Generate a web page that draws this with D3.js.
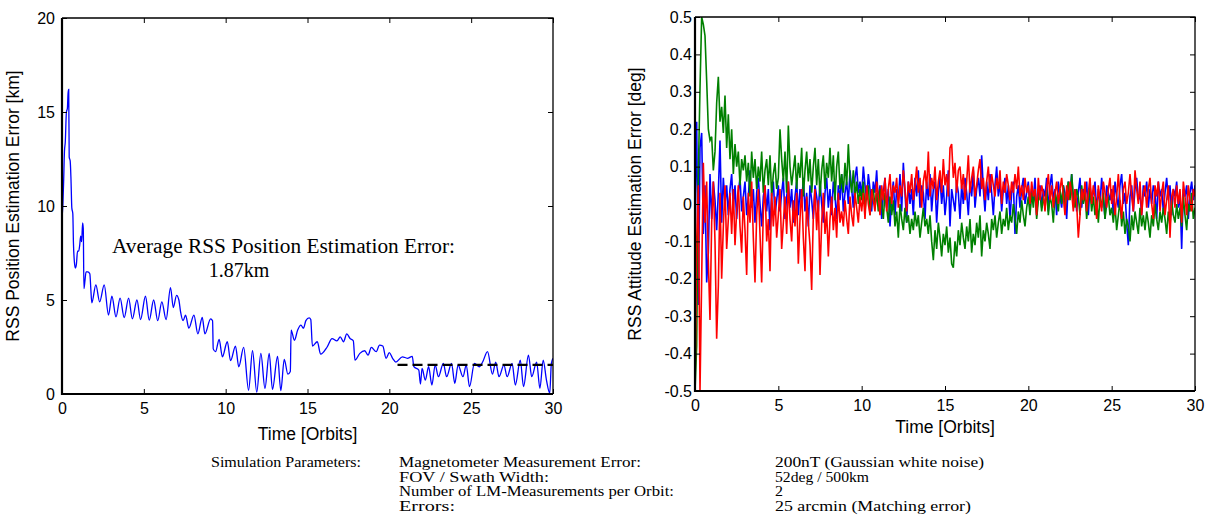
<!DOCTYPE html>
<html>
<head>
  <meta charset="utf-8">
  <style>
    body { margin: 0; background: #fff; }
    svg { display: block; }
    .tick text { font: 16px "Liberation Sans", Arial, sans-serif; fill: #000; }
    .tick line { stroke: #000; stroke-width: 1; }
    .label { font: 17.5px "Liberation Sans", Arial, sans-serif; fill: #000; }
    .note { font-family: "Liberation Serif", "Times New Roman", serif; fill: #000; }
  </style>
  <script src="https://cdn.jsdelivr.net/npm/d3@7"></script>
</head>
<body>
<script>
// ---- data ----

// position error [km] vs time [orbits]
var posTime = [0, 0.05, 0.1, 0.15, 0.2, 0.27, 0.33, 0.37, 0.41, 0.44, 0.5, 0.55, 0.6, 0.66, 0.7, 0.76, 0.82, 0.88, 0.95, 1.02,
  1.08, 1.14, 1.2, 1.26, 1.3, 1.34, 1.4, 1.47, 1.58, 1.7, 1.76, 1.82, 2.07, 2.3, 2.58, 2.84, 3.05, 3.3, 3.55, 3.8,
  4.07, 4.3, 4.58, 4.8, 5.1, 5.33, 5.6, 5.85, 6.1, 6.36, 6.63, 6.8, 7.0, 7.14, 7.24, 7.4, 7.55, 7.75, 8.06, 8.3,
  8.57, 8.73, 9.08, 9.2, 9.24, 9.38, 9.6, 9.8, 10.1, 10.3, 10.6, 10.8, 11.1, 11.4, 11.64, 11.9, 12.15, 12.4, 12.66, 12.86,
  13.17, 13.37, 13.58, 13.8, 13.95, 14.0, 14.2, 14.4, 14.6, 14.75, 14.9, 15.1, 15.2, 15.3, 15.6, 15.8, 16.2, 16.5, 16.8, 17.0,
  17.2, 17.4, 17.6, 17.8, 17.9, 18.2, 18.5, 18.7, 18.9, 19.2, 19.4, 19.6, 19.8, 20.0, 20.2, 20.4, 20.8, 21.1, 21.4, 21.5,
  21.8, 21.9, 22.0, 22.2, 22.4, 22.6, 22.8, 23.0, 23.3, 23.5, 23.8, 24.0, 24.2, 24.5, 24.7, 24.9, 25.2, 25.5, 25.7, 26.0,
  26.3, 26.5, 26.7, 27.0, 27.2, 27.5, 27.7, 28.0, 28.2, 28.5, 28.7, 29.0, 29.2, 29.4, 29.6, 29.8, 29.9, 30.0];
var posKm = [9.4, 10.0, 11.3, 12.9, 13.4, 15.0, 15.2, 16.0, 16.2, 12.6, 12.4, 11.4, 9.9, 9.6, 8.0, 7.0, 6.7, 6.9, 7.6, 7.6,
  7.9, 8.4, 8.1, 9.1, 8.8, 5.6, 6.0, 6.5, 6.5, 6.4, 5.6, 4.85, 5.8, 4.9, 5.8, 4.2, 5.2, 4.1, 5.1, 4.07,
  5.1, 4.0, 5.0, 3.96, 5.2, 3.93, 5.0, 3.9, 4.9, 3.96, 5.66, 4.6, 5.25, 5.0, 4.4, 3.9, 4.2, 3.5, 4.2, 3.2,
  4.07, 3.2, 4.0, 3.9, 2.4, 2.25, 2.9, 1.98, 2.78, 1.77, 2.55, 1.45, 2.48, 0.2, 2.3, 0.1, 2.16, 0.3, 2.16, 0.25,
  2.0, 0.18, 1.84, 1.06, 1.2, 3.4, 2.86, 3.4, 3.66, 3.5, 3.9, 4.05, 3.96, 2.55, 2.78, 2.12, 2.5, 2.95, 2.83, 3.04,
  2.78, 3.2, 2.95, 2.83, 1.8, 2.16, 2.3, 2.07, 2.48, 2.25, 2.6, 2.55, 1.9, 2.2, 1.9, 1.7, 1.98, 1.9, 2.0, 1.45,
  1.27, 0.53, 1.36, 0.74, 1.45, 0.48, 1.54, 0.92, 1.63, 0.92, 1.63, 0.57, 1.54, 0.92, 1.54, 0.39, 1.63, 1.45, 1.7, 2.25,
  1.06, 1.7, 0.92, 1.54, 0.92, 1.63, 0.48, 1.8, 0.39, 2.07, 0.92, 1.7, 0.3, 1.8, 0.74, 0.04, 1.63, 1.9];

// dashed average line
var avgSpan = [20.5, 30];
var avgLevel = 1.55;

// attitude error [deg], one sample every 0.1 orbit from 0 to 30
var attStep = 0.1;
var attBlue = [
  0.00, 0.22, -0.27, 0.15, 0.19, -0.08, 0.05, -0.21, -0.13, 0.08,
  -0.04, 0.06, 0.01, -0.07, 0.03, 0.17, -0.05, 0.07, 0.00, 0.05,
  -0.03, 0.04, 0.08, -0.01, 0.05, -0.04, 0.03, 0.07, -0.02, 0.02,
  0.06, -0.03, 0.02, 0.09, -0.01, 0.04, -0.05, 0.03, 0.07, 0.00,
  -0.06, 0.02, 0.05, -0.02, 0.04, -0.07, 0.03, 0.06, -0.03, 0.01,
  0.05, -0.02, 0.03, 0.07, -0.04, 0.02, 0.06, -0.01, 0.04, -0.05,
  0.02, 0.06, -0.03, 0.04, 0.00, 0.07, -0.02, 0.03, -0.06, 0.05,
  0.01, -0.04, 0.05, 0.02, -0.02, 0.06, 0.00, -0.05, 0.03, 0.07,
  -0.01, 0.04, -0.03, 0.06, 0.02, -0.04, 0.05, 0.01, 0.08, -0.02,
  0.03, 0.06, 0.00, 0.09, 0.04, -0.01, 0.07, 0.10, 0.03, 0.06,
  0.02, 0.10, 0.05, 0.01, 0.08, 0.04, -0.02, 0.06, 0.03, 0.09,
  0.00, 0.05, -0.04, 0.03, 0.07, -0.01, 0.04, -0.06, 0.02, 0.06,
  -0.03, 0.04, 0.01, 0.08, -0.02, 0.11, 0.03, -0.05, 0.06, 0.00,
  0.04, -0.03, 0.07, 0.02, 0.09, -0.01, 0.05, 0.03, -0.04, 0.06,
  0.01, 0.08, -0.02, 0.04, 0.06, -0.05, 0.03, 0.07, 0.00, 0.05,
  -0.03, 0.02, 0.09, -0.06, 0.04, 0.01, -0.02, 0.06, 0.03, -0.04,
  0.05, 0.00, 0.07, 0.03, -0.03, 0.06, 0.02, 0.09, -0.01, 0.04,
  0.07, 0.02, 0.13, 0.04, -0.02, 0.06, 0.01, 0.08, 0.03, -0.03,
  0.05, 0.10, 0.02, 0.06, -0.02, 0.04, 0.07, 0.00, 0.05, -0.04,
  0.03, 0.06, -0.08, 0.02, 0.05, -0.01, 0.04, 0.07, 0.00, 0.03,
  0.06, -0.02, 0.04, 0.01, 0.07, -0.03, 0.03, 0.05, -0.01, 0.04,
  0.02, 0.07, -0.02, 0.05, 0.08, 0.01, 0.04, -0.03, 0.06, 0.02,
  -0.01, 0.05, 0.03, -0.04, 0.06, 0.02, 0.08, 0.00, 0.04, -0.02,
  0.03, 0.07, -0.01, 0.04, 0.02, 0.06, -0.03, 0.05, 0.01, 0.03,
  0.06, -0.02, 0.04, 0.00, 0.07, 0.02, -0.04, 0.05, 0.03, 0.01,
  0.04, -0.03, 0.06, 0.02, -0.01, 0.05, 0.08, 0.00, 0.03, -0.05,
  -0.11, 0.02, 0.05, -0.02, 0.04, 0.07, 0.01, 0.03, -0.03, 0.05,
  0.02, 0.06, -0.01, 0.04, 0.00, 0.05, 0.03, -0.04, 0.06, 0.02,
  0.04, -0.02, 0.03, 0.07, 0.01, 0.05, -0.03, 0.04, 0.02, 0.06,
  -0.01, 0.03, -0.12, 0.04, 0.02, 0.05, -0.04, 0.03, 0.06, 0.01,
  0.05];
var attGreen = [
  -0.50, -0.38, 0.08, 0.31, 0.50, 0.48, 0.45, 0.33, 0.20, 0.17,
  0.18, 0.09, 0.14, 0.27, 0.34, 0.22, 0.26, 0.19, 0.29, 0.15,
  0.24, 0.12, 0.20, 0.08, 0.16, 0.10, 0.14, 0.05, 0.12, 0.09,
  0.13, 0.06, 0.11, 0.02, 0.14, 0.07, 0.12, 0.04, 0.10, 0.06,
  0.14, 0.03, 0.09, 0.12, 0.05, 0.13, 0.02, 0.08, 0.11, 0.04,
  0.07, 0.20, 0.12, 0.06, 0.14, 0.03, 0.21, 0.10, 0.05, 0.09,
  0.13, 0.04, 0.11, 0.07, 0.15, 0.02, 0.09, 0.14, 0.06, 0.12,
  0.03, 0.10, 0.15, 0.05, 0.12, 0.02, 0.09, 0.13, 0.04, 0.11,
  0.07, 0.15, 0.06, 0.13, 0.01, 0.10, 0.14, 0.04, 0.08, 0.03,
  0.11, 0.05, 0.16, 0.07, 0.03, 0.09, 0.02, 0.06, 0.00, 0.04,
  0.01, 0.06, -0.02, 0.03, 0.05, -0.03, 0.02, 0.04, -0.01, 0.03,
  -0.02, 0.04, 0.00, -0.04, 0.03, -0.01, -0.05, 0.02, -0.03, 0.01,
  -0.06, -0.02, -0.09, 0.00, -0.04, -0.07, -0.01, -0.05, -0.03, -0.08,
  -0.04, -0.07, -0.02, -0.06, -0.03, -0.09, -0.05, -0.01, -0.06, -0.04,
  -0.08, -0.03, -0.10, -0.15, -0.07, -0.12, -0.05, -0.09, -0.14, -0.08,
  -0.11, -0.06, -0.13, -0.09, -0.16, -0.17, -0.10, -0.14, -0.07, -0.11,
  -0.05, -0.09, -0.12, -0.06, -0.10, -0.04, -0.13, -0.08, -0.11, -0.05,
  -0.09, -0.03, -0.14, -0.07, -0.10, -0.05, -0.08, -0.12, -0.04, -0.07,
  -0.03, -0.09, -0.05, -0.02, -0.08, -0.04, -0.06, -0.01, -0.07, -0.03,
  -0.05, 0.00, -0.04, -0.08, -0.02, -0.05, 0.01, -0.03, -0.06, -0.01,
  0.02, -0.03, 0.03, -0.01, 0.04, -0.04, 0.01, 0.03, -0.02, 0.02,
  -0.01, 0.04, -0.03, 0.02, 0.00, -0.05, 0.03, 0.01, -0.02, 0.04,
  0.00, 0.05, -0.02, 0.03, 0.06, 0.01, 0.08, 0.02, -0.01, 0.04,
  0.02, -0.03, 0.05, 0.00, 0.03, -0.04, 0.01, 0.04, -0.02, 0.02,
  -0.03, 0.01, -0.05, 0.02, -0.01, 0.03, -0.04, 0.00, 0.02, -0.03,
  -0.01, -0.05, 0.00, -0.07, -0.03, 0.01, -0.06, -0.02, -0.08, -0.04,
  -0.06, -0.10, -0.03, -0.07, -0.02, -0.05, -0.08, -0.01, -0.06, -0.03,
  -0.07, -0.02, -0.05, -0.09, -0.03, -0.06, 0.00, -0.04, -0.07, -0.02,
  -0.05, -0.01, -0.04, -0.08, -0.02, -0.06, 0.01, -0.03, -0.05, 0.00,
  -0.04, -0.01, -0.06, 0.02, -0.03, -0.07, 0.00, -0.02, 0.03, -0.04,
  -0.01];
var attRed = [
  -0.50, -0.10, 0.05, -0.50, -0.20, 0.11, -0.05, 0.06, -0.15, -0.31,
  -0.05, 0.06, -0.10, -0.36, -0.22, 0.03, -0.20, -0.06, 0.05, -0.12,
  -0.04, 0.03, -0.08, 0.04, -0.11, -0.02, 0.05, -0.06, -0.13, 0.02,
  -0.07, -0.19, 0.03, -0.05, 0.06, -0.09, -0.21, -0.03, 0.04, -0.08,
  -0.21, -0.02, 0.05, -0.10, -0.04, -0.18, 0.03, -0.06, 0.02, -0.09,
  -0.03, 0.04, -0.12, -0.05, 0.02, -0.08, 0.06, -0.04, -0.10, 0.01,
  -0.06, 0.03, -0.16, -0.04, 0.04, -0.09, -0.18, 0.02, -0.05, -0.11,
  -0.23, -0.03, 0.04, -0.07, 0.01, -0.19, -0.05, 0.03, -0.08, -0.02,
  -0.14, -0.04, 0.02, -0.07, -0.01, -0.09, 0.03, -0.05, -0.02, -0.06,
  0.01, -0.04, -0.08, 0.02, -0.03, -0.06, 0.03, -0.01, -0.05, 0.02,
  -0.02, 0.03, -0.04, 0.05, 0.00, -0.03, 0.04, 0.01, -0.02, 0.06,
  0.02, -0.03, 0.05, 0.01, 0.07, -0.02, 0.04, 0.08, 0.00, 0.05,
  0.03, 0.07, -0.01, 0.05, 0.02, 0.09, 0.04, -0.02, 0.06, 0.03,
  0.08, 0.01, 0.05, 0.10, 0.03, 0.07, -0.01, 0.06, 0.09, 0.04,
  0.14, 0.02, 0.07, 0.04, 0.10, 0.01, 0.06, 0.09, 0.03, 0.12,
  0.05, 0.08, 0.02, 0.15, 0.16, 0.07, 0.11, 0.03, 0.09, 0.10,
  0.04, 0.08, 0.01, 0.06, 0.13, 0.03, 0.07, 0.10, 0.02, 0.05,
  0.09, 0.12, 0.04, 0.07, 0.01, 0.06, 0.10, 0.03, 0.08, 0.05,
  0.02, 0.07, 0.04, 0.09, 0.00, 0.06, 0.03, 0.08, 0.05, 0.01,
  0.06, 0.03, 0.08, 0.04, 0.10, 0.02, 0.05, 0.01, 0.07, 0.03,
  0.05, 0.00, 0.06, 0.02, 0.04, -0.03, 0.07, 0.01, 0.05, 0.03,
  -0.02, 0.04, 0.08, 0.01, 0.05, -0.01, 0.03, 0.06, 0.00, 0.04,
  0.07, 0.02, -0.03, 0.05, 0.01, 0.06, 0.03, -0.02, 0.04, 0.00,
  -0.09, -0.03, 0.04, 0.01, 0.06, -0.02, 0.03, 0.07, 0.00, 0.05,
  0.02, -0.04, 0.05, 0.01, -0.02, 0.06, 0.03, -0.01, 0.04, 0.07,
  0.00, 0.05, -0.03, 0.02, 0.08, 0.01, -0.04, 0.04, 0.06, 0.00,
  0.03, 0.08, 0.02, -0.02, 0.09, 0.04, 0.00, 0.06, -0.03, 0.03,
  0.05, -0.01, 0.04, 0.07, 0.00, -0.04, 0.05, 0.02, 0.06, -0.02,
  0.03, 0.06, -0.03, 0.01, 0.05, -0.09, 0.02, 0.04, -0.01, 0.05,
  0.00, 0.04, -0.05, 0.06, 0.02, -0.03, 0.05, 0.01, -0.02, 0.04,
  0.02];

var posTicksX = [0, 5, 10, 15, 20, 25, 30];
var posTicksY = [0, 5, 10, 15, 20];
var attTicksY = [-0.5, -0.4, -0.3, -0.2, -0.1, 0, 0.1, 0.2, 0.3, 0.4, 0.5];

var noteLines = ["Average RSS Position Estimation Error:", "1.87km"];
var paramHead = "Simulation Parameters:";
var paramNames = ["Magnetometer Measurement Error:", "FOV / Swath Width:", "Number of LM-Measurements per Orbit:", "Errors:"];
var paramValues = ["200nT (Gaussian white noise)", "52deg / 500km", "2", "25 arcmin (Matching error)"];

// ---- drawing ----
var W = 1208, H = 527;
var svg = d3.select("body").append("svg").attr("width", W).attr("height", H);

function frame(x, y, yTicks, yFmt, yPad, xLabelY, yLabelX, yLabelText) {
  var g = svg.append("g");
  var x0 = x.range()[0], x1 = x.range()[1], y0 = y.range()[0], y1 = y.range()[1];

  g.append("g").attr("transform", "translate(0," + y0 + ")")
    .call(d3.axisBottom(x).tickValues(posTicksX).tickSize(-5).tickSizeOuter(0).tickPadding(9).tickFormat(d3.format("d")))
    .call(function(a) { a.select(".domain").remove(); a.selectAll("text").attr("dy", "0.71em"); });
  g.append("g").attr("transform", "translate(0," + y1 + ")")
    .call(d3.axisTop(x).tickValues(posTicksX).tickSize(-5).tickSizeOuter(0).tickFormat(""))
    .call(function(a) { a.select(".domain").remove(); });
  g.append("g").attr("transform", "translate(" + x0 + ",0)")
    .call(d3.axisLeft(y).tickValues(yTicks).tickSize(-5).tickSizeOuter(0).tickPadding(yPad).tickFormat(yFmt))
    .call(function(a) { a.select(".domain").remove(); });
  g.append("g").attr("transform", "translate(" + x1 + ",0)")
    .call(d3.axisRight(y).tickValues(yTicks).tickSize(-5).tickSizeOuter(0).tickFormat(""))
    .call(function(a) { a.select(".domain").remove(); });

  // box: heavier on left / bottom
  g.append("path").attr("fill", "none").attr("stroke", "#000").attr("stroke-width", 1.3)
    .attr("d", "M" + x0 + "," + y1 + "H" + x1 + "V" + y0);
  g.append("path").attr("fill", "none").attr("stroke", "#000").attr("stroke-width", 2.2)
    .attr("d", "M" + x0 + "," + y1 + "V" + y0 + "H" + x1);

  g.append("text").attr("class", "label").attr("text-anchor", "middle")
    .attr("x", (x0 + x1) / 2).attr("y", xLabelY).text("Time [Orbits]");
  g.append("text").attr("class", "label").attr("text-anchor", "middle")
    .attr("transform", "translate(" + yLabelX + "," + (y0 + y1) / 2 + ") rotate(-90)")
    .text(yLabelText);
}

// left panel
var xPos = d3.scaleLinear().domain([0, 30]).range([62, 553]);
var yPos = d3.scaleLinear().domain([0, 20]).range([394, 18]);

svg.append("clipPath").attr("id", "clipPos").append("rect")
  .attr("x", 62).attr("y", 18).attr("width", 491).attr("height", 376);

var posData = posTime.map(function(t, i) { return [t, posKm[i]]; });
svg.append("path").datum(posData)
  .attr("clip-path", "url(#clipPos)")
  .attr("fill", "none").attr("stroke", "#0000ff").attr("stroke-width", 1.3)
  .attr("d", d3.line().curve(d3.curveMonotoneX)
    .x(function(d) { return xPos(d[0]); }).y(function(d) { return yPos(d[1]); }));

svg.append("line")
  .attr("x1", xPos(avgSpan[0])).attr("x2", xPos(avgSpan[1]))
  .attr("y1", yPos(avgLevel)).attr("y2", yPos(avgLevel))
  .attr("stroke", "#000").attr("stroke-width", 2.2).attr("stroke-dasharray", "10,5");

frame(xPos, yPos, posTicksY, d3.format("d"), 7, 440, 19, "RSS Position Estimation Error [km]");

svg.append("text").attr("class", "note").attr("font-size", 20)
  .attr("x", 112).attr("y", 253).attr("textLength", 343).attr("lengthAdjust", "spacingAndGlyphs")
  .text(noteLines[0]);
svg.append("text").attr("class", "note").attr("font-size", 20).attr("text-anchor", "middle")
  .attr("x", 239).attr("y", 277).text(noteLines[1]);

// right panel
var xAtt = d3.scaleLinear().domain([0, 30]).range([695, 1195]);
var yAtt = d3.scaleLinear().domain([-0.5, 0.5]).range([391, 17]);

svg.append("clipPath").attr("id", "clipAtt").append("rect")
  .attr("x", 695).attr("y", 17).attr("width", 500).attr("height", 374);

var attLine = d3.line()
  .x(function(d, i) { return xAtt(i * attStep); })
  .y(function(d) { return yAtt(d); });

[[attBlue, "#0000ff"], [attGreen, "#008000"], [attRed, "#ff0000"]].forEach(function(s) {
  svg.append("path").datum(s[0])
    .attr("clip-path", "url(#clipAtt)")
    .attr("fill", "none").attr("stroke", s[1]).attr("stroke-width", 1.6)
    .attr("d", attLine);
});

frame(xAtt, yAtt, attTicksY, function(v) { return Math.abs(v) < 1e-9 ? "0" : v.toFixed(1); }, 3, 433, 641,
  "RSS Attitude Estimation Error [deg]");

// parameter table
var rowY = [467, 481.5, 496, 510.5];
var nameW = [242, 150, 275, 56];
var valueW = [209, 94, 8, 196];
svg.append("text").attr("class", "note").attr("font-size", 14.5)
  .attr("x", 211).attr("y", rowY[0]).attr("textLength", 150).attr("lengthAdjust", "spacingAndGlyphs")
  .text(paramHead);
paramNames.forEach(function(n, i) {
  svg.append("text").attr("class", "note").attr("font-size", 14.5)
    .attr("x", 399).attr("y", rowY[i]).attr("textLength", nameW[i]).attr("lengthAdjust", "spacingAndGlyphs")
    .text(n);
  svg.append("text").attr("class", "note").attr("font-size", 14.5)
    .attr("x", 775).attr("y", rowY[i]).attr("textLength", valueW[i]).attr("lengthAdjust", "spacingAndGlyphs")
    .text(paramValues[i]);
});
</script>
</body>
</html>
